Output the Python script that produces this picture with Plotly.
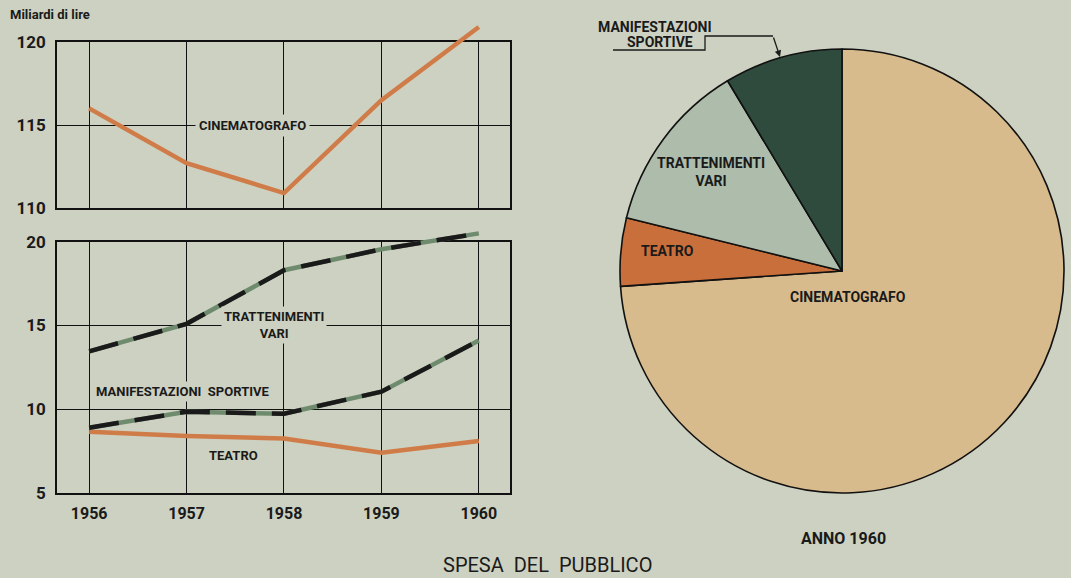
import plotly.graph_objects as go

# --- data (miliardi di lire) ---
anni = [1956, 1957, 1958, 1959, 1960]
cinematografo = [116.0, 112.7, 110.9, 116.5, 120.9]
trattenimenti_vari = [13.45, 15.1, 18.3, 19.55, 20.5]
manifestazioni_sportive = [8.9, 9.85, 9.73, 11.05, 14.1]
teatro = [8.65, 8.4, 8.26, 7.4, 8.1]

pie_labels = ["CINEMATOGRAFO", "TEATRO", "TRATTENIMENTI VARI", "MANIFESTAZIONI SPORTIVE"]
pie_values = [cinematografo[-1], teatro[-1], trattenimenti_vari[-1], manifestazioni_sportive[-1]]

top_ticks = [110, 115, 120]
bottom_ticks = [5, 10, 15, 20]

# --- styling ---
W, H = 1071, 578
BG = "#cdd1c1"
ORANGE = "#d07c48"
GREEN = "#6f8b6e"
INK = "#1a1a1a"
FONT = "Roboto, DejaVu Sans Condensed, sans-serif"
pie_colors = ["#d8bb8c", "#c96f3b", "#aebdab", "#2f4b3e"]


def px(x):
    return x / W


def py(y):
    return 1 - y / H


X_RANGE = [1955.67, 1960.32]
X_DOM = [px(57), px(510)]

fig = go.Figure()

# top panel line (own axis so the line may run past the frame)
fig.add_trace(go.Scatter(x=anni, y=cinematografo, xaxis="x3", yaxis="y3", mode="lines",
                         line=dict(color=ORANGE, width=4.5), showlegend=False))

# bottom panel lines
fig.add_trace(go.Scatter(x=anni, y=teatro, xaxis="x4", yaxis="y4", mode="lines",
                         line=dict(color=ORANGE, width=4.5), showlegend=False))
for serie in (trattenimenti_vari, manifestazioni_sportive):
    fig.add_trace(go.Scatter(x=anni, y=serie, xaxis="x4", yaxis="y4", mode="lines",
                             line=dict(color=GREEN, width=4.5), showlegend=False))
    fig.add_trace(go.Scatter(x=anni, y=serie, xaxis="x4", yaxis="y4", mode="lines",
                             line=dict(color=INK, width=4.5, dash="30px,16px"),
                             showlegend=False))

# pie for 1960
fig.add_trace(go.Pie(labels=pie_labels, values=pie_values, sort=False,
                     direction="clockwise", rotation=0, textinfo="none",
                     marker=dict(colors=pie_colors, line=dict(color="#111111", width=1.6)),
                     domain=dict(x=[px(620), px(1064)], y=[py(493), py(49)]),
                     showlegend=False, hoverinfo="label+value"))

frame_axis = dict(showline=True, mirror=True, linecolor="#111111", linewidth=1.6,
                  showgrid=True, gridcolor="#111111", gridwidth=1.2, zeroline=False,
                  ticks="", fixedrange=True, automargin=False)
ytickfont = dict(family=FONT, size=17, color=INK, weight="bold")
xtickfont = dict(family=FONT, size=16, color=INK, weight="bold")

hidden = dict(visible=False, fixedrange=True, automargin=False)

fig.update_layout(
    width=W, height=H,
    margin=dict(l=0, r=0, t=0, b=0, autoexpand=False),
    paper_bgcolor=BG, plot_bgcolor="rgba(0,0,0,0)",
    xaxis=dict(frame_axis, domain=X_DOM, range=X_RANGE, tickvals=anni,
               showticklabels=False, anchor="y"),
    yaxis=dict(frame_axis, domain=[py(208), py(42)], range=[110, 120],
               tickvals=top_ticks, ticktext=[str(v) for v in top_ticks],
               tickfont=ytickfont, ticklabelstandoff=6, anchor="x"),
    xaxis2=dict(frame_axis, domain=X_DOM, range=X_RANGE, tickvals=anni,
                ticktext=[str(a) for a in anni], tickfont=xtickfont,
                ticklabelstandoff=5, anchor="y2"),
    yaxis2=dict(frame_axis, domain=[py(493), py(241.7)], range=[5, 20],
                tickvals=bottom_ticks, ticktext=[str(v) for v in bottom_ticks],
                tickfont=ytickfont, ticklabelstandoff=6, anchor="x2"),
    xaxis3=dict(hidden, domain=X_DOM, range=X_RANGE, anchor="y3"),
    yaxis3=dict(hidden, domain=[py(208), py(22)], range=[110, 110 + (208 - 22) / 16.6], anchor="x3"),
    xaxis4=dict(hidden, domain=X_DOM, range=X_RANGE, anchor="y4"),
    yaxis4=dict(hidden, domain=[py(493), py(224)], range=[5, 5 + (493 - 224) / 16.75], anchor="x4"),
)

lab = dict(family=FONT, size=13, color=INK, weight="bold")
plab = dict(family=FONT, size=14, color=INK, weight="bold")


def note(text, x, y, font, xref="paper", yref="paper", **kw):
    if xref == "paper":
        x = px(x)
    if yref == "paper":
        y = py(y)
    return dict(text=text, x=x, y=y, xref=xref, yref=yref, xanchor=kw.pop("xanchor", "center"),
                yanchor="middle", showarrow=False, font=font, **kw)


annotations = [
    note("Miliardi di lire", 8, 15, dict(family=FONT, size=13, color=INK, weight="bold"),
         xanchor="left"),
    note("CINEMATOGRAFO", 1957.68, 115, lab, xref="x", yref="y", bgcolor=BG, borderpad=3),
    note("TRATTENIMENTI<br>VARI", 1957.9, 15.0, lab, xref="x2", yref="y2", bgcolor=BG, borderpad=2),
    note("MANIFESTAZIONI  SPORTIVE", 1956.96, 11.05, lab, xref="x2", yref="y2", bgcolor=BG, borderpad=2),
    note("TEATRO", 1957.48, 7.25, lab, xref="x2", yref="y2"),
    note("SPESA  DEL  PUBBLICO", 547, 565, dict(family=FONT, size=20, color=INK)),
    note("ANNO 1960", 843, 538, dict(family=FONT, size=16, color=INK, weight="bold")),
    note("CINEMATOGRAFO", 848, 297, plab),
    note("TEATRO", 667, 251, plab),
    note("TRATTENIMENTI<br>VARI", 711, 172, plab),
    note("MANIFESTAZIONI", 655, 27, plab),
    note("SPORTIVE", 660, 42, plab),
    # leader arrow toward the sport slice
    dict(text="", x=px(780), y=py(57), xref="paper", yref="paper", showarrow=True,
         ax=-7, ay=-21, arrowhead=2, arrowsize=1, arrowwidth=1.3, arrowcolor=INK),
]
fig.update_layout(annotations=annotations)

fig.add_shape(type="path",
              path=f"M {px(613)},{py(50)} L {px(705)},{py(50)} L {px(705)},{py(36)} L {px(773)},{py(36)}",
              xref="paper", yref="paper", line=dict(color=INK, width=1.3))

fig.write_html("out.html")
